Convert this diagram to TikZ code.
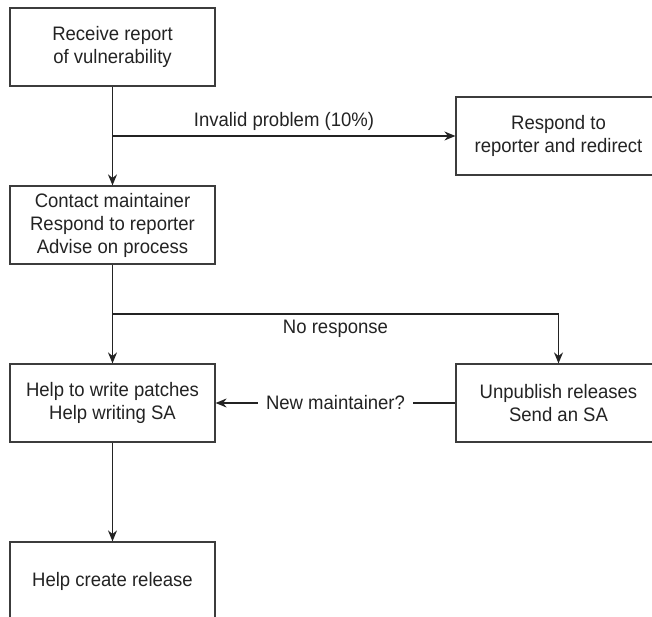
\documentclass[tikz,border=0pt]{standalone}
\usepackage{fontspec}
\setmainfont[FakeStretch=0.95]{Liberation Sans}
\usetikzlibrary{arrows.meta,positioning,calc}
\definecolor{ink}{RGB}{35,35,35}
\definecolor{frame}{RGB}{60,60,60}

\tikzset{
  stepbox/.style={draw=frame,line width=1.2pt,minimum width=205pt,minimum height=78pt,
    inner sep=0pt,align=center,text=ink,font=\fontsize{19.5}{23}\selectfont},
  flow/.style={draw=ink,line width=1.5pt,-{Stealth[length=11pt,width=9pt]}},
  lbl/.style={text=ink,font=\fontsize{19.5}{23}\selectfont,inner sep=2pt}
}

\begin{document}
\begin{tikzpicture}[x=1pt,y=1pt]
    \useasboundingbox (0,0) rectangle (652,616);
    % boxes
    \node[stepbox] (recv) at (112.5,569) {Receive report\\of vulnerability};
    \node[stepbox] (contact) at (112.5,391) {Contact maintainer\\Respond to reporter\\Advise on process};
    \node[stepbox] (respond) at (558.5,480) {Respond to\\reporter and redirect};
    \node[stepbox] (patch) at (112.5,213) {Help to write patches\\Help writing SA};
    \node[stepbox] (unpub) at (558.5,213) {Unpublish releases\\Send an SA};
    \node[stepbox] (release) at (112.5,35) {Help create release};
    % branch points
    \coordinate (split1) at (112.5,480);
    \coordinate (split2) at (112.5,302);
    % connectors
    \draw[flow] (recv) -- (contact);
    \draw[flow] (split1) -- node[lbl,above=3pt]{Invalid problem (10\%)} (respond);
    \draw[flow] (contact) -- (patch);
    \draw[flow] (split2) -| node[lbl,below=3pt,pos=0.25]{No response} (unpub);
    \draw[flow] (unpub) -- node[lbl,fill=white,inner xsep=8pt]{New maintainer?} (patch);
    \draw[flow] (patch) -- (release);
  \end{tikzpicture}
\end{document}
